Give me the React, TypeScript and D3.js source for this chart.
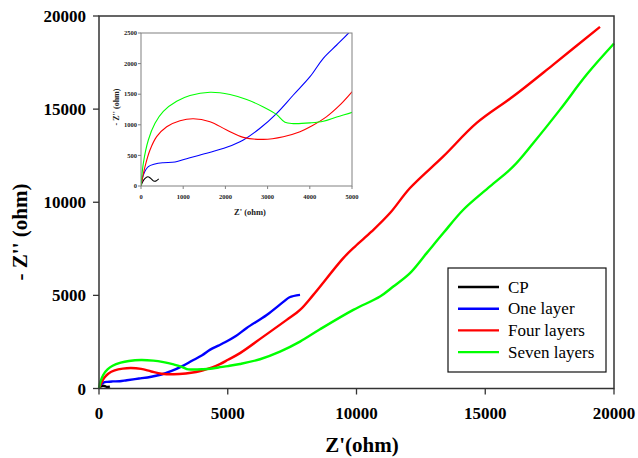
import React from "react";
import * as d3 from "d3";

// Nyquist data: Z' (real, ohm) and -Z'' (imaginary, ohm)
const cpZre = [0, 40, 90, 160, 230, 300, 350, 420];
const cpZim = [0, 70, 120, 150, 125, 80, 80, 115];

const oneZre = [0, 55, 174, 332, 529, 806, 1082, 1556, 2030, 2425, 2820, 3216, 3610, 4005, 4320, 4637, 4913, 5300, 5736, 6513, 7157, 7400, 7806];
const oneZim = [0, 180, 316, 359, 380, 392, 446, 534, 632, 752, 943, 1188, 1487, 1786, 2087, 2304, 2495, 2800, 3250, 3950, 4650, 4900, 5027];

const fourZre = [0, 95, 213, 371, 609, 924, 1240, 1635, 2030, 2425, 2900, 3373, 3768, 4044, 4400, 4716, 5007, 5476, 6381, 7289, 7806, 8322, 9487, 9942, 10590, 11301, 12078, 13371, 14668, 16089, 17643, 19456];
const fourZim = [0, 316, 588, 806, 969, 1067, 1100, 1051, 915, 795, 762, 806, 888, 980, 1133, 1324, 1541, 1900, 2785, 3683, 4220, 5027, 7000, 7624, 8430, 9419, 10763, 12462, 14258, 15688, 17392, 19419];

const sevenZre = [0, 55, 174, 332, 529, 845, 1161, 1635, 2109, 2504, 2900, 3216, 3412, 3610, 4005, 4320, 4637, 5007, 5476, 6252, 7029, 7806, 8583, 9876, 10913, 11429, 12078, 12725, 13371, 14148, 15184, 16089, 16867, 17903, 18940, 20000];
const sevenZim = [0, 371, 752, 1025, 1220, 1384, 1478, 1531, 1495, 1413, 1291, 1166, 1041, 1020, 1031, 1057, 1128, 1204, 1317, 1570, 1978, 2516, 3180, 4220, 4935, 5473, 6194, 7269, 8344, 9597, 10849, 11925, 13183, 14973, 16855, 18520];

const seriesNames = ["CP", "One layer", "Four layers", "Seven layers"];
const seriesColors = ["#000000", "#0000ff", "#ff0000", "#00ff00"];

const mainTicks = [0, 5000, 10000, 15000, 20000];
const insetXTicks = [0, 1000, 2000, 3000, 4000, 5000];
const insetYTicks = [0, 500, 1000, 1500, 2000, 2500];

type Pt = [number, number];
const zip = (a: number[], b: number[]): Pt[] => a.map((v, i) => [v, b[i]]);

const series: Pt[][] = [
  zip(cpZre, cpZim),
  zip(oneZre, oneZim),
  zip(fourZre, fourZim),
  zip(sevenZre, sevenZim),
];

const serif = '"Liberation Serif", "DejaVu Serif", "Noto Serif", serif';

export default function App() {
  const W = 638;
  const H = 458;

  // main plot
  const x = d3.scaleLinear().domain([0, 20000]).range([99, 614]);
  const y = d3.scaleLinear().domain([0, 20000]).range([388.5, 16]);
  const mainLine = d3
    .line<Pt>()
    .x((d) => x(d[0]))
    .y((d) => y(d[1]))
    .curve(d3.curveCatmullRom.alpha(0.5));

  // inset plot
  const ix = d3.scaleLinear().domain([0, 5000]).range([141, 352]);
  const iy = d3.scaleLinear().domain([0, 2500]).range([186, 33]);
  const insetLine = d3
    .line<Pt>()
    .x((d) => ix(d[0]))
    .y((d) => iy(d[1]))
    .curve(d3.curveCatmullRom.alpha(0.5));

  const axisColor = "#333";
  const insetGrey = "#808080";

  return (
    <svg width={W} height={H} fontFamily={serif} style={{ position: "absolute", left: 0, top: 0 }}>
      <rect width={W} height={H} fill="#fff" />
      <defs>
        <clipPath id="insetClip">
          <rect x={ix(0)} y={iy(2500)} width={ix(5000) - ix(0)} height={iy(0) - iy(2500)} />
        </clipPath>
      </defs>

      {/* main series */}
      {series.map((s, i) => (
        <path key={i} d={mainLine(s) || ""} fill="none" stroke={seriesColors[i]} strokeWidth={2.4} strokeLinejoin="round" />
      ))}

      {/* main frame */}
      <rect x={x(0)} y={y(20000)} width={x(20000) - x(0)} height={y(0) - y(20000)} fill="none" stroke={axisColor} strokeWidth={1.5} />
      {mainTicks.map((t) => (
        <g key={"x" + t}>
          <line x1={x(t)} x2={x(t)} y1={y(0)} y2={y(0) + 6} stroke={axisColor} strokeWidth={1.3} />
          <text x={x(t)} y={419} textAnchor="middle" fontFamily={serif} fontWeight="bold" fontSize={17}>
            {t}
          </text>
        </g>
      ))}
      {mainTicks.map((t) => (
        <g key={"y" + t}>
          <line x1={x(0) - 6} x2={x(0)} y1={y(t)} y2={y(t)} stroke={axisColor} strokeWidth={1.3} />
          <text x={86} y={y(t) + 6} textAnchor="end" fontFamily={serif} fontWeight="bold" fontSize={17}>
            {t}
          </text>
        </g>
      ))}
      <text x={362} y={452} textAnchor="middle" fontFamily={serif} fontWeight="bold" fontSize={21}>
        Z'(ohm)
      </text>
      <text transform="translate(27,232) rotate(-90)" textAnchor="middle" fontFamily={serif} fontWeight="bold" fontSize={21}>
        - Z'' (ohm)
      </text>

      {/* inset */}
      <rect x={ix(0)} y={iy(2500)} width={ix(5000) - ix(0)} height={iy(0) - iy(2500)} fill="#fff" />
      <g clipPath="url(#insetClip)">
        {series.map((s, i) => (
          <path key={i} d={insetLine(s) || ""} fill="none" stroke={seriesColors[i]} strokeWidth={1.1} strokeLinejoin="round" />
        ))}
      </g>
      <rect x={ix(0)} y={iy(2500)} width={ix(5000) - ix(0)} height={iy(0) - iy(2500)} fill="none" stroke={insetGrey} strokeWidth={1} />
      {insetXTicks.map((t) => (
        <g key={"ix" + t}>
          <line x1={ix(t)} x2={ix(t)} y1={iy(0)} y2={iy(0) + 3} stroke={insetGrey} strokeWidth={1} />
          <text x={ix(t)} y={199} textAnchor="middle" fontFamily={serif} fontWeight="bold" fontSize={6.5} fill="#222">
            {t}
          </text>
        </g>
      ))}
      {insetYTicks.map((t) => (
        <g key={"iy" + t}>
          <line x1={ix(0) - 3} x2={ix(0)} y1={iy(t)} y2={iy(t)} stroke={insetGrey} strokeWidth={1} />
          <text x={137} y={iy(t) + 2.2} textAnchor="end" fontFamily={serif} fontWeight="bold" fontSize={6.5} fill="#222">
            {t}
          </text>
        </g>
      ))}
      <text x={250} y={215} textAnchor="middle" fontFamily={serif} fontWeight="bold" fontSize={8.5} fill="#222">
        Z' (ohm)
      </text>
      <text transform="translate(119,107) rotate(-90)" textAnchor="middle" fontFamily={serif} fontWeight="bold" fontSize={8} fill="#222">
        - Z'' (ohm)
      </text>

      {/* legend */}
      <rect x={448} y={268} width={158} height={104} fill="#fff" stroke="#111" strokeWidth={1.2} />
      {seriesNames.map((n, i) => {
        const cy = 287 + i * 21.7;
        return (
          <g key={n}>
            <line x1={458} x2={499} y1={cy} y2={cy} stroke={seriesColors[i]} strokeWidth={2.4} />
            <text x={508} y={cy + 5.5} fontFamily={serif} fontSize={17}>
              {n}
            </text>
          </g>
        );
      })}
    </svg>
  );
}
